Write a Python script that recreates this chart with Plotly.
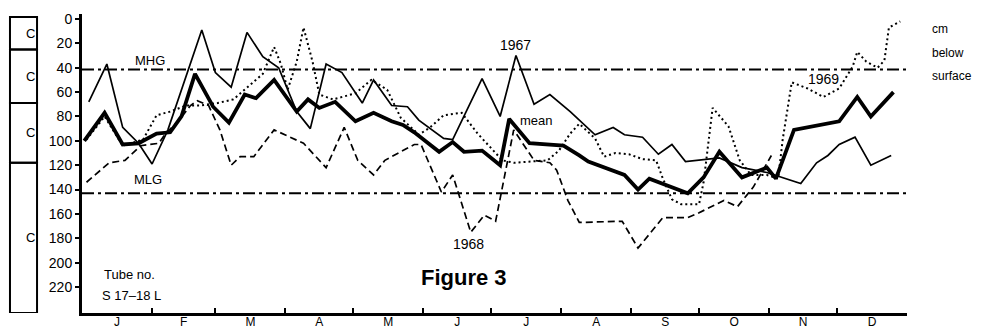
import plotly.graph_objects as go

# ---------------- data ----------------
months = ["J", "F", "M", "A", "M", "J", "J", "A", "S", "O", "N", "D"]
month_mid = [15.5, 45, 74.5, 105, 135.5, 166, 196.5, 227.5, 258, 288.5, 319, 349.5]
month_edges = [31, 59, 90, 120, 151, 181, 212, 243, 273, 304, 334]
depth_ticks = [0, 20, 40, 60, 80, 100, 120, 140, 160, 180, 200, 220]
right_ticks = [11.5, 32, 52.5, 72.5, 93, 113.5, 134, 154.5, 175, 195.5, 216]

day_1967 = [3, 11, 18, 25, 31, 38, 53, 59, 66, 73, 80, 87, 95, 101, 108, 115, 124, 129,
            137, 144, 149, 160, 164, 177, 185, 192, 200, 207, 216, 227, 235, 240, 248, 255,
            261, 267, 282, 292, 303, 318, 325, 330, 335, 342, 349, 358]
depth_1967 = [68, 37, 89, 102, 119, 91, 9, 44, 56, 11, 31, 40, 76, 90, 37, 44, 69, 50,
              71, 72, 83, 98, 99, 49, 80, 30, 70, 62, 76, 95, 89, 95, 97, 111,
              103, 117, 114, 122, 126, 135, 118, 112, 103, 97, 120, 112]

day_1968 = [2, 12, 19, 26, 34, 37, 43, 48, 51, 56, 61, 66, 70, 76, 85, 98, 108, 116, 122,
            129, 134, 147, 150, 159, 164, 172, 178, 183, 191, 195, 200, 207, 210, 215, 220,
            239, 246, 257, 268, 273, 284, 290, 297, 305]
depth_1968 = [134, 118, 116, 104, 102, 94, 83, 71, 67, 71, 91, 120, 113, 113, 91, 102, 122, 89, 116,
              128, 116, 103, 103, 142, 128, 175, 161, 166, 91, 102, 116, 118, 124, 149, 167,
              166, 188, 163, 163, 159, 149, 154, 138, 112]

day_1969 = [2, 10, 18, 27, 33, 39, 46, 52, 60, 67, 80, 85, 88, 91, 95, 98, 102, 105, 111, 121,
            128, 135, 141, 149, 154, 160, 168, 175, 181, 186, 191, 198, 206, 211, 216, 220,
            227, 231, 236, 242, 248, 254, 257, 261, 265, 273, 275, 279, 286, 291, 296, 303,
            308, 310, 314, 321, 328, 335, 341, 343, 347, 352, 355, 357, 362]
depth_1969 = [99, 80, 104, 99, 79, 76, 71, 71, 69, 66, 45, 23, 37, 58, 35, 7, 35, 62, 66, 61,
              50, 58, 81, 95, 89, 79, 77, 94, 106, 116, 118, 117, 116, 108, 94, 86,
              98, 113, 110, 111, 115, 116, 131, 148, 152, 152, 134, 73, 88, 116, 128, 128,
              131, 99, 52, 57, 64, 57, 39, 27, 35, 40, 34, 7, 2]

day_mean = [1, 10, 18, 25, 33, 39, 44, 50, 58, 65, 72, 77, 85, 95, 100, 105, 112, 121, 129,
            137, 142, 147, 158, 164, 169, 177, 185, 189, 198, 213, 220, 224, 240, 246, 251,
            268, 275, 282, 292, 303, 307, 315, 335, 343, 349, 359]
depth_mean = [100, 77, 103, 102, 94, 93, 80, 45, 72, 85, 62, 65, 50, 76, 66, 73, 68, 84, 77,
              84, 87, 93, 109, 101, 109, 108, 120, 82, 102, 104, 112, 117, 128, 140, 131,
              143, 130, 109, 130, 122, 131, 91, 84, 64, 80, 60]

MHG = 41.5
MLG = 143
soil_bounds = [-1.6, 25, 69, 118, 241.3]
soil_labels = ["C", "C", "C", "C"]

# ---------------- figure ----------------
FONT = "Liberation Sans, Arial, Helvetica, sans-serif"
yr = [241.3, -4.1]

fig = go.Figure()
fig.add_trace(go.Scatter(x=day_1968, y=depth_1968, mode="lines",
                         line=dict(color="black", width=1.7, dash="7px,4px")))
fig.add_trace(go.Scatter(x=day_1969, y=depth_1969, mode="lines",
                         line=dict(color="black", width=2, dash="2px,3px")))
fig.add_trace(go.Scatter(x=day_1967, y=depth_1967, mode="lines",
                         line=dict(color="black", width=1.7)))
fig.add_trace(go.Scatter(x=day_mean, y=depth_mean, mode="lines",
                         line=dict(color="black", width=3.8)))

shapes = []
for lvl in (MHG, MLG):
    shapes.append(dict(type="line", xref="paper", yref="y", x0=0, x1=1, y0=lvl, y1=lvl,
                       line=dict(color="black", width=2, dash="12px,4px,3px,4px")))
for i in range(len(soil_labels)):
    shapes.append(dict(type="rect", xref="paper", yref="y", x0=-0.0873, x1=-0.0545,
                       y0=soil_bounds[i], y1=soil_bounds[i + 1],
                       line=dict(color="black", width=2)))

ann = []
for i, lab in enumerate(soil_labels):
    ann.append(dict(xref="paper", yref="y", x=-0.0709,
                    y=(soil_bounds[i] + soil_bounds[i + 1]) / 2,
                    text=lab, showarrow=False, font=dict(size=13)))


def txt(x, y, t, size=13, anchor="center", xref="x"):
    ann.append(dict(xref=xref, yref="y", x=x, y=y, text=t, showarrow=False,
                    xanchor=anchor, font=dict(size=size)))


txt(30, 34, "MHG")
txt(29, 132, "MLG")
txt(9, 210, "Tube no.", anchor="left")
txt(8, 227, "S 17\u201318 L", anchor="left")
txt(169, 212, "<b>Figure 3</b>", size=22)
txt(191.6, 21.5, "1967", size=14)
txt(201, 83, "mean")
txt(171, 185, "1968", size=14)
txt(328, 49, "1969", size=14)
txt(1.028, 8, "cm", size=12, anchor="left", xref="paper")
txt(1.028, 28, "below", size=12, anchor="left", xref="paper")
txt(1.028, 47, "surface", size=12, anchor="left", xref="paper")

# page body has an 8px offset, margins compensate so the plot lands at 82..907 x 14..313
fig.update_layout(
    width=981, height=331, autosize=False,
    margin=dict(l=74, r=82, t=6, b=26),
    paper_bgcolor="white", plot_bgcolor="white",
    showlegend=False,
    font=dict(family=FONT, size=13, color="black"),
    shapes=shapes, annotations=ann,
    xaxis=dict(range=[0, 365], tickmode="array", tickvals=month_mid, ticktext=months,
               ticks="", showgrid=False, zeroline=False, automargin=False,
               showline=True, linecolor="black", linewidth=3,
               tickfont=dict(size=12), ticklabelstandoff=-4,
               minor=dict(tickmode="array", tickvals=month_edges, ticks="inside",
                          ticklen=5, tickwidth=2, tickcolor="black", showgrid=False)),
    yaxis=dict(range=yr, tickmode="array", tickvals=depth_ticks,
               ticks="outside", ticklen=4, tickwidth=2, tickcolor="black",
               showgrid=False, zeroline=False, automargin=False,
               showline=True, linecolor="black", linewidth=3,
               tickfont=dict(size=14)),
    yaxis2=dict(range=yr, overlaying="y", side="right", tickmode="array",
                tickvals=right_ticks, ticks="inside", ticklen=5, tickwidth=2,
                tickcolor="black", showticklabels=False, showgrid=False, zeroline=False,
                automargin=False, showline=True, linecolor="black", linewidth=3),
)

fig.write_html("out.html")
